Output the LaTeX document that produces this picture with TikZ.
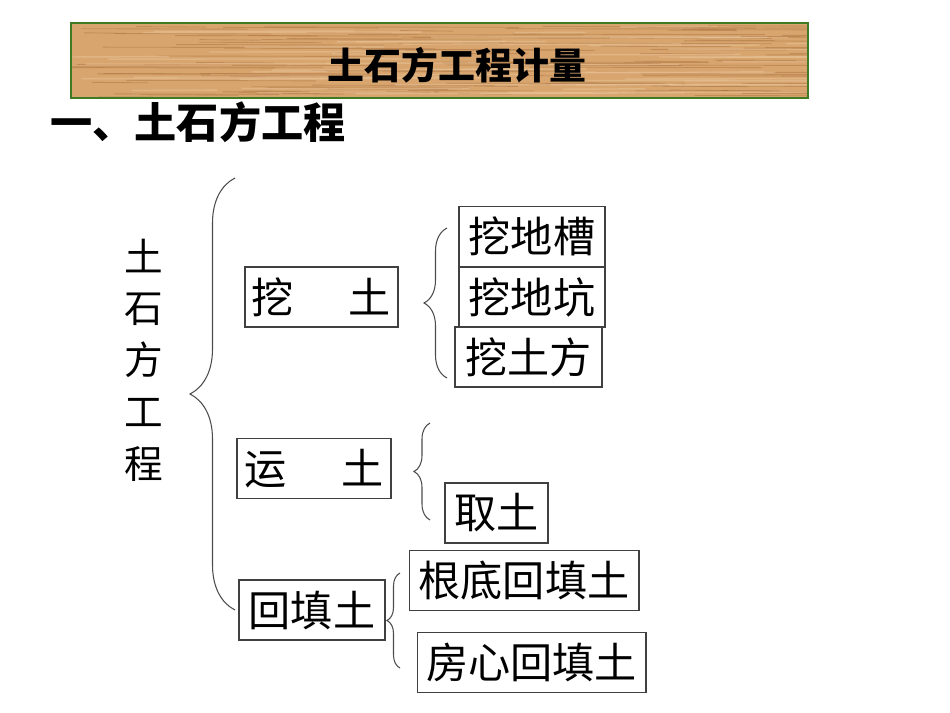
\documentclass[tikz,border=0pt]{standalone}
\usepackage{fontspec}
\setmainfont{Noto Sans CJK SC}
\usetikzlibrary{decorations.pathreplacing}
\definecolor{wood}{HTML}{D8A56F}
\definecolor{woodDark}{HTML}{A86F3C}
\definecolor{woodLight}{HTML}{E9C59A}
\definecolor{barEdge}{HTML}{3F7A26}
\tikzset{
    item/.style={draw=black!75, line width=0.6pt, inner sep=0pt,
        minimum height=1.2cm, font=\fontsize{24}{24}\selectfont},
    curly/.style={draw=black!70, line width=0.6pt, decorate,
        decoration={brace, amplitude=#1}},
}
\begin{document}
\begin{tikzpicture}[x=0.02cm, y=-0.02cm]
\useasboundingbox (0,0) rectangle (950,713);
% title bar with wood grain
\begin{scope}
\clip (71,23) rectangle (808,98);
\fill[wood] (71,23) rectangle (808,98);
\pgfmathsetseed{17}
\foreach \i in {1,...,110} {
    \pgfmathsetmacro\yy{25+72*rnd}
    \pgfmathsetmacro\xa{50+740*rnd}
    \pgfmathsetmacro\ln{40+220*rnd}
    \draw[woodDark, opacity=0.45, line width=0.5pt] (\xa,\yy) -- ++(\ln,0.5);
}
\foreach \i in {1,...,50} {
    \pgfmathsetmacro\yy{25+72*rnd}
    \pgfmathsetmacro\xa{50+740*rnd}
    \pgfmathsetmacro\ln{60+260*rnd}
    \draw[woodLight, opacity=0.5, line width=0.8pt] (\xa,\yy) -- ++(\ln,-0.4);
}
\end{scope}
\draw[barEdge, line width=1pt] (71,23) rectangle (808,98);
\node[font=\fontsize{21}{21}\bfseries\selectfont] (title) at (457,65) {土石方工程计量};
\node[anchor=west, inner sep=0pt, font=\fontsize{24}{24}\bfseries\selectfont] (head) at (50,122) {一、土石方工程};

% left column
\node[align=center, font=\fontsize{22}{29.5}\selectfont] (root) at (144,360) {土\\石\\方\\工\\程};

% second level
\node[item, minimum width=3.06cm] (dig) at (321.5,297) {挖\hspace{1.3em}土};
\node[item, minimum width=3.08cm] (move) at (314,468.5) {运\hspace{1.3em}土};
\node[item, minimum width=2.92cm] (fill) at (312,610) {回填土};

% third level
\node[item, minimum width=2.92cm] (trench) at (532,236.5) {挖地槽};
\node[item, minimum width=2.92cm] (pit) at (532,297) {挖地坑};
\node[item, minimum width=2.94cm] (bulk) at (528.5,357) {挖土方};
\node[item, minimum width=2.06cm] (borrow) at (496.5,513) {取土};
\node[item, minimum width=4.60cm] (footing) at (524,580.5) {根底回填土};
\node[item, minimum width=4.58cm] (room) at (531.5,662.5) {房心回填土};

% braces
\coordinate (rootTop) at (235,178);
\coordinate (rootBot) at (235,610);
\coordinate (digTop) at (447,228);
\coordinate (digBot) at (447,378);
\coordinate (moveTop) at (430,423);
\coordinate (moveBot) at (430,520);
\coordinate (fillTop) at (400,573);
\coordinate (fillBot) at (400,668);
\draw[curly=0.9cm] (rootBot) -- (rootTop);
\draw[curly=0.46cm] (digBot) -- (digTop);
\draw[curly=0.32cm] (moveBot) -- (moveTop);
\draw[curly=0.26cm] (fillBot) -- (fillTop);
\end{tikzpicture}
\end{document}
